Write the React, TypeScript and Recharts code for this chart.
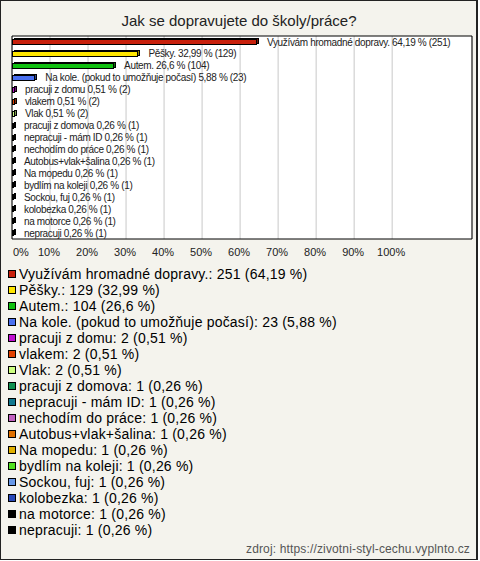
import React from 'react';
import { BarChart, Bar, XAxis, YAxis, CartesianGrid, ReferenceArea, LabelList, Cell } from 'recharts';

const title = 'Jak se dopravujete do školy/práce?';
const names = [
  'Využívám hromadné dopravy.',
  'Pěšky.',
  'Autem.',
  'Na kole. (pokud to umožňuje počasí)',
  'pracuji z domu',
  'vlakem',
  'Vlak',
  'pracuji z domova',
  'nepracuji - mám ID',
  'nechodím do práce',
  'Autobus+vlak+šalina',
  'Na mopedu',
  'bydlím na koleji',
  'Sockou, fuj',
  'kolobezka',
  'na motorce',
  'nepracuji',
];
const counts = [251, 129, 104, 23, 2, 2, 2, 1, 1, 1, 1, 1, 1, 1, 1, 1, 1];
const percents = [64.19, 32.99, 26.6, 5.88, 0.51, 0.51, 0.51, 0.26, 0.26, 0.26, 0.26, 0.26, 0.26, 0.26, 0.26, 0.26, 0.26];
const colors = [
  '#c8200c', '#ffe600', '#10c010', '#4a70f0', '#c010d0', '#e04000', '#ccff80', '#109050',
  '#107890', '#c060c0', '#e07000', '#e0b000', '#50e020', '#6898e8', '#2848b8', '#000000', '#000000',
];
const tickValues = [0, 10, 20, 30, 40, 50, 60, 70, 80, 90, 100];
const source = 'zdroj: https://zivotni-styl-cechu.vyplnto.cz';

const fmt = (p: number) => String(p).replace('.', ',');

const data = names.map((n, i) => ({
  name: n,
  value: percents[i],
  color: colors[i],
  label: `${n} ${fmt(percents[i])} % (${counts[i]})`,
  legend: `${n}: ${counts[i]} (${fmt(percents[i])} %)`,
}));

const darken = (hex: string) => {
  const h = hex.replace('#', '');
  const r = Math.round(parseInt(h.slice(0, 2), 16) * 0.6);
  const g = Math.round(parseInt(h.slice(2, 4), 16) * 0.6);
  const b = Math.round(parseInt(h.slice(4, 6), 16) * 0.6);
  return `rgb(${r},${g},${b})`;
};

const Bar3D = (props: any) => {
  const { x, y, width, height } = props;
  const fill = props.fill || (props.payload && props.payload.color) || '#000';
  const w = Math.max(Math.round(width), 1);
  const rx = Math.round(x) + 0.5;
  const ry = Math.round(y) + 0.5;
  const h = Math.max(Math.round(height) - 1, 2);
  return (
    <g>
      <rect x={rx + 2} y={ry - 1} width={w} height={h} fill={darken(fill)} stroke="#000" strokeWidth={1} />
      <rect x={rx} y={ry} width={w} height={h} fill={fill} stroke="#000" strokeWidth={1} />
    </g>
  );
};

const FONT = '"Liberation Sans", Arial, sans-serif';

const BarLabel = (props: any) => {
  const vb = props.viewBox || props;
  const x = (vb.x ?? props.x) as number;
  const y = (vb.y ?? props.y) as number;
  const width = (vb.width ?? props.width) as number;
  const height = (vb.height ?? props.height) as number;
  return (
    <text
      x={x + Math.max(width, 1) + 11}
      y={y + height / 2}
      dominantBaseline="central"
      fontSize={10}
      letterSpacing={-0.35}
      fill="#222"
      fontFamily={FONT}
    >
      {props.value}
    </text>
  );
};

const Tick = (props: any) => {
  const { x, y, payload } = props;
  const isZero = payload.value === 0;
  return (
    <text
      x={isZero ? x + 1 : x - 1}
      y={y}
      dy={11}
      textAnchor={isZero ? 'start' : 'middle'}
      fontSize={11}
      fill="#222"
      fontFamily={FONT}
    >
      {`${payload.value}%`}
    </text>
  );
};

export default function App() {
  return (
    <div
      style={{
        position: 'absolute',
        left: 0,
        top: 0,
        width: 478,
        height: 560,
        boxSizing: 'border-box',
        border: '1px solid #222',
        borderRight: '2px solid #222',
        background: '#f4f3ed',
        fontFamily: FONT,
        overflow: 'hidden',
      }}
    >
      <div
        style={{
          position: 'absolute',
          top: 10,
          left: 0,
          width: 476,
          textAlign: 'center',
          fontSize: 15,
          color: '#222',
          lineHeight: '20px',
        }}
      >
        {title}
      </div>
      <div style={{ position: 'absolute', left: -1, top: 0 }}>
        <BarChart
          width={480}
          height={260}
          data={data}
          layout="vertical"
          margin={{ top: 35, right: 8, bottom: 0, left: 12 }}
          barCategoryGap={0}
        >
          <CartesianGrid horizontal={false} vertical stroke="#c8c8c8" fill="#ffffff" />
          <XAxis
            type="number"
            domain={[0, 121]}
            ticks={tickValues}
            axisLine={false}
            tickLine={false}
            height={22}
            tickMargin={0}
            tick={<Tick />}
            interval={0}
            allowDataOverflow
          />
          <YAxis type="category" dataKey="name" hide width={0} />
          <ReferenceArea x1={0} x2={121} fill="none" stroke="#000" strokeWidth={1} ifOverflow="visible" />
          <Bar dataKey="value" barSize={6} shape={<Bar3D />} isAnimationActive={false}>
            {data.map((d, i) => (
              <Cell key={i} fill={d.color} />
            ))}
            <LabelList dataKey="label" content={<BarLabel />} />
          </Bar>
        </BarChart>
      </div>
      <div style={{ position: 'absolute', left: 7, top: 265 }}>
        {data.map((d, i) => (
          <div
            key={i}
            style={{
              height: 16,
              lineHeight: '16px',
              fontSize: 14,
              letterSpacing: 0.2,
              color: '#000',
              whiteSpace: 'nowrap',
            }}
          >
            <span
              style={{
                display: 'inline-block',
                width: 6,
                height: 6,
                border: '1px solid #000',
                background: d.color,
                marginRight: 3,
                verticalAlign: 'middle',
                position: 'relative',
                top: -1,
              }}
            />
            {d.legend}
          </div>
        ))}
      </div>
      <div
        style={{
          position: 'absolute',
          right: 6,
          top: 541,
          fontSize: 12,
          letterSpacing: 0.15,
          color: '#555',
          whiteSpace: 'nowrap',
        }}
      >
        {source}
      </div>
    </div>
  );
}
